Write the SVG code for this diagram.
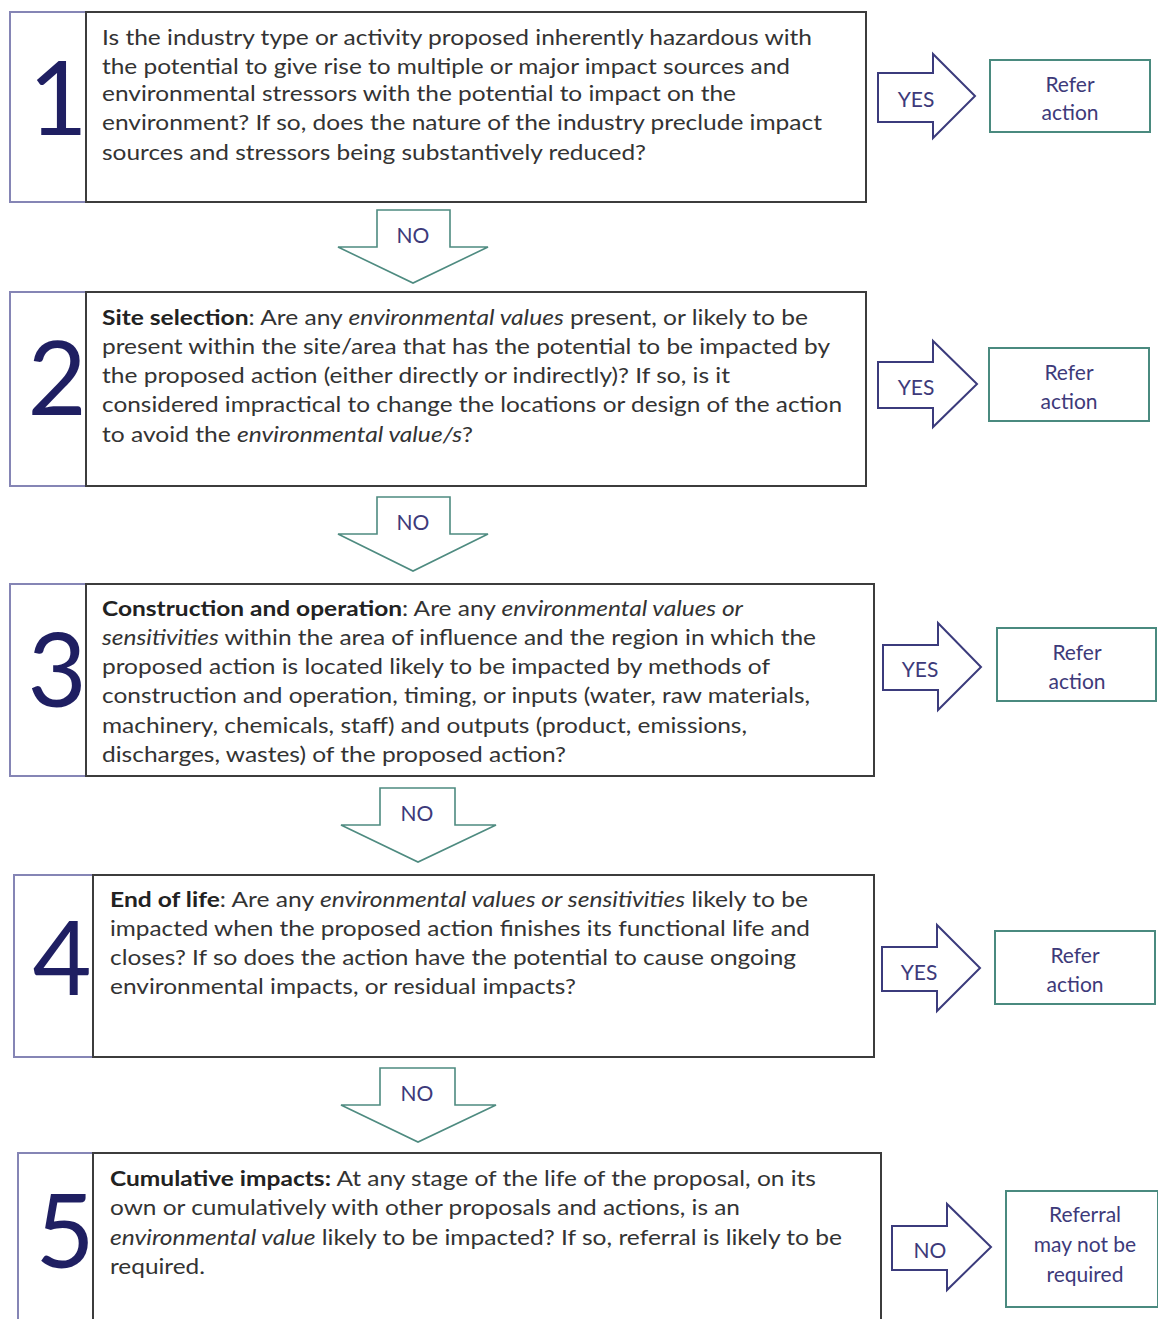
<svg xmlns="http://www.w3.org/2000/svg" width="1158" height="1319" viewBox="0 0 1158 1319">
<style>
.num{fill:#fff;stroke:#8585b5;stroke-width:2}
.box{fill:#fff;stroke:#3c3c3c;stroke-width:2}
.ref{fill:#fff;stroke:#4a8a7f;stroke-width:2}
.ra{fill:#fff;stroke:#3b3b7c;stroke-width:2;stroke-linejoin:miter}
.da{fill:#fff;stroke:#4e8b80;stroke-width:1.6}
.t{font-family:Lato,"Open Sans",sans-serif;font-size:21px;fill:#333}
.b{font-weight:bold;fill:#222}
.i{font-style:italic}
.n{font-family:Lato,"Open Sans",sans-serif;font-size:102px;fill:#1f1f62;text-anchor:middle}
.l{font-family:Lato,"Open Sans",sans-serif;font-size:21px;fill:#3d3a7a;text-anchor:middle}
</style>
<g id="connectors">
<path class="ra" d="M878,73 H933 V54 L975,96 L933,138 V122 H878 Z"/>
<text class="l" x="916" y="107">YES</text>
<path class="ra" d="M878,362 H933 V341 L977,384 L933,427 V408 H878 Z"/>
<text class="l" x="916" y="395">YES</text>
<path class="ra" d="M883,645 H938 V623 L981,667 L938,710 V690 H883 Z"/>
<text class="l" x="920" y="677">YES</text>
<path class="ra" d="M882,947 H937 V925 L980,968 L937,1011 V991 H882 Z"/>
<text class="l" x="919" y="980">YES</text>
<path class="ra" d="M892,1226 H947 V1204 L991,1247 L947,1290 V1270 H892 Z"/>
<text class="l" x="930" y="1258">NO</text>
<path class="da" d="M377,210 H450 V247 H488 L413,283 L338,247 H377 Z"/>
<text class="l" x="413" y="243">NO</text>
<path class="da" d="M377,497 H450 V534 H488 L413,571 L338,534 H377 Z"/>
<text class="l" x="413" y="530">NO</text>
<path class="da" d="M380,788 H455 V825 H496 L418,862 L341,825 H380 Z"/>
<text class="l" x="417" y="821">NO</text>
<path class="da" d="M380,1068 H455 V1105 H496 L418,1142 L341,1105 H380 Z"/>
<text class="l" x="417" y="1101">NO</text>
</g>
<g id="step1">
<rect class="num" x="10" y="12" width="76" height="190"/>
<rect class="box" x="86" y="12" width="780" height="190"/>
<text class="n" x="58" y="135">1</text>
<text class="t" x="102" y="45" textLength="710" lengthAdjust="spacingAndGlyphs">Is the industry type or activity proposed inherently hazardous with</text>
<text class="t" x="102" y="74" textLength="688" lengthAdjust="spacingAndGlyphs">the potential to give rise to multiple or major impact sources and</text>
<text class="t" x="102" y="101" textLength="634" lengthAdjust="spacingAndGlyphs">environmental stressors with the potential to impact on the</text>
<text class="t" x="102" y="130" textLength="720" lengthAdjust="spacingAndGlyphs">environment? If so, does the nature of the industry preclude impact</text>
<text class="t" x="102" y="160" textLength="544" lengthAdjust="spacingAndGlyphs">sources and stressors being substantively reduced?</text>
</g>
<g id="refer1">
<rect class="ref" x="990" y="60" width="160" height="72"/>
<text class="l" x="1070" y="92">Refer</text>
<text class="l" x="1070" y="120">action</text>
</g>
<g id="step2">
<rect class="num" x="10" y="292" width="76" height="194"/>
<rect class="box" x="86" y="292" width="780" height="194"/>
<text class="n" x="57" y="415">2</text>
<text class="t" x="102" y="325" textLength="706" lengthAdjust="spacingAndGlyphs"><tspan class="b">Site selection</tspan>: Are any <tspan class="i">environmental values</tspan> present, or likely to be</text>
<text class="t" x="102" y="354" textLength="728" lengthAdjust="spacingAndGlyphs">present within the site/area that has the potential to be impacted by</text>
<text class="t" x="102" y="383" textLength="628" lengthAdjust="spacingAndGlyphs">the proposed action (either directly or indirectly)? If so, is it</text>
<text class="t" x="102" y="412" textLength="740" lengthAdjust="spacingAndGlyphs">considered impractical to change the locations or design of the action</text>
<text class="t" x="102" y="442" textLength="371" lengthAdjust="spacingAndGlyphs">to avoid the <tspan class="i">environmental value/s</tspan>?</text>
</g>
<g id="refer2">
<rect class="ref" x="989" y="348" width="160" height="73"/>
<text class="l" x="1069" y="380">Refer</text>
<text class="l" x="1069" y="409">action</text>
</g>
<g id="step3">
<rect class="num" x="10" y="584" width="76" height="192"/>
<rect class="box" x="86" y="584" width="788" height="192"/>
<text class="n" x="57" y="707">3</text>
<text class="t" x="102" y="616" textLength="641" lengthAdjust="spacingAndGlyphs"><tspan class="b">Construction and operation</tspan>: Are any <tspan class="i">environmental values or</tspan></text>
<text class="t" x="102" y="645" textLength="714" lengthAdjust="spacingAndGlyphs"><tspan class="i">sensitivities</tspan> within the area of influence and the region in which the</text>
<text class="t" x="102" y="674" textLength="668" lengthAdjust="spacingAndGlyphs">proposed action is located likely to be impacted by methods of</text>
<text class="t" x="102" y="703" textLength="708" lengthAdjust="spacingAndGlyphs">construction and operation, timing, or inputs (water, raw materials,</text>
<text class="t" x="102" y="733" textLength="645" lengthAdjust="spacingAndGlyphs">machinery, chemicals, staff) and outputs (product, emissions,</text>
<text class="t" x="102" y="762" textLength="464" lengthAdjust="spacingAndGlyphs">discharges, wastes) of the proposed action?</text>
</g>
<g id="refer3">
<rect class="ref" x="997" y="628" width="159" height="73"/>
<text class="l" x="1077" y="660">Refer</text>
<text class="l" x="1077" y="689">action</text>
</g>
<g id="step4">
<rect class="num" x="14" y="875" width="79" height="182"/>
<rect class="box" x="93" y="875" width="781" height="182"/>
<text class="n" x="62" y="995">4</text>
<text class="t" x="110" y="907" textLength="698" lengthAdjust="spacingAndGlyphs"><tspan class="b">End of life</tspan>: Are any <tspan class="i">environmental values or sensitivities</tspan> likely to be</text>
<text class="t" x="110" y="936" textLength="700" lengthAdjust="spacingAndGlyphs">impacted when the proposed action finishes its functional life and</text>
<text class="t" x="110" y="965" textLength="686" lengthAdjust="spacingAndGlyphs">closes? If so does the action have the potential to cause ongoing</text>
<text class="t" x="110" y="994" textLength="466" lengthAdjust="spacingAndGlyphs">environmental impacts, or residual impacts?</text>
</g>
<g id="refer4">
<rect class="ref" x="995" y="931" width="160" height="73"/>
<text class="l" x="1075" y="963">Refer</text>
<text class="l" x="1075" y="992">action</text>
</g>
<g id="step5">
<rect class="num" x="18" y="1153" width="75" height="190"/>
<rect class="box" x="93" y="1153" width="788" height="190"/>
<text class="n" x="65" y="1268">5</text>
<text class="t" x="110" y="1186" textLength="706" lengthAdjust="spacingAndGlyphs"><tspan class="b">Cumulative impacts:</tspan> At any stage of the life of the proposal, on its</text>
<text class="t" x="110" y="1215" textLength="630" lengthAdjust="spacingAndGlyphs">own or cumulatively with other proposals and actions, is an</text>
<text class="t" x="110" y="1245" textLength="732" lengthAdjust="spacingAndGlyphs"><tspan class="i">environmental value</tspan> likely to be impacted? If so, referral is likely to be</text>
<text class="t" x="110" y="1274" textLength="95" lengthAdjust="spacingAndGlyphs">required.</text>
</g>
<g id="referral5">
<rect class="ref" x="1006" y="1191" width="152" height="116"/>
<text class="l" x="1085" y="1222">Referral</text>
<text class="l" x="1085" y="1252">may not be</text>
<text class="l" x="1085" y="1282">required</text>
</g>
</svg>
